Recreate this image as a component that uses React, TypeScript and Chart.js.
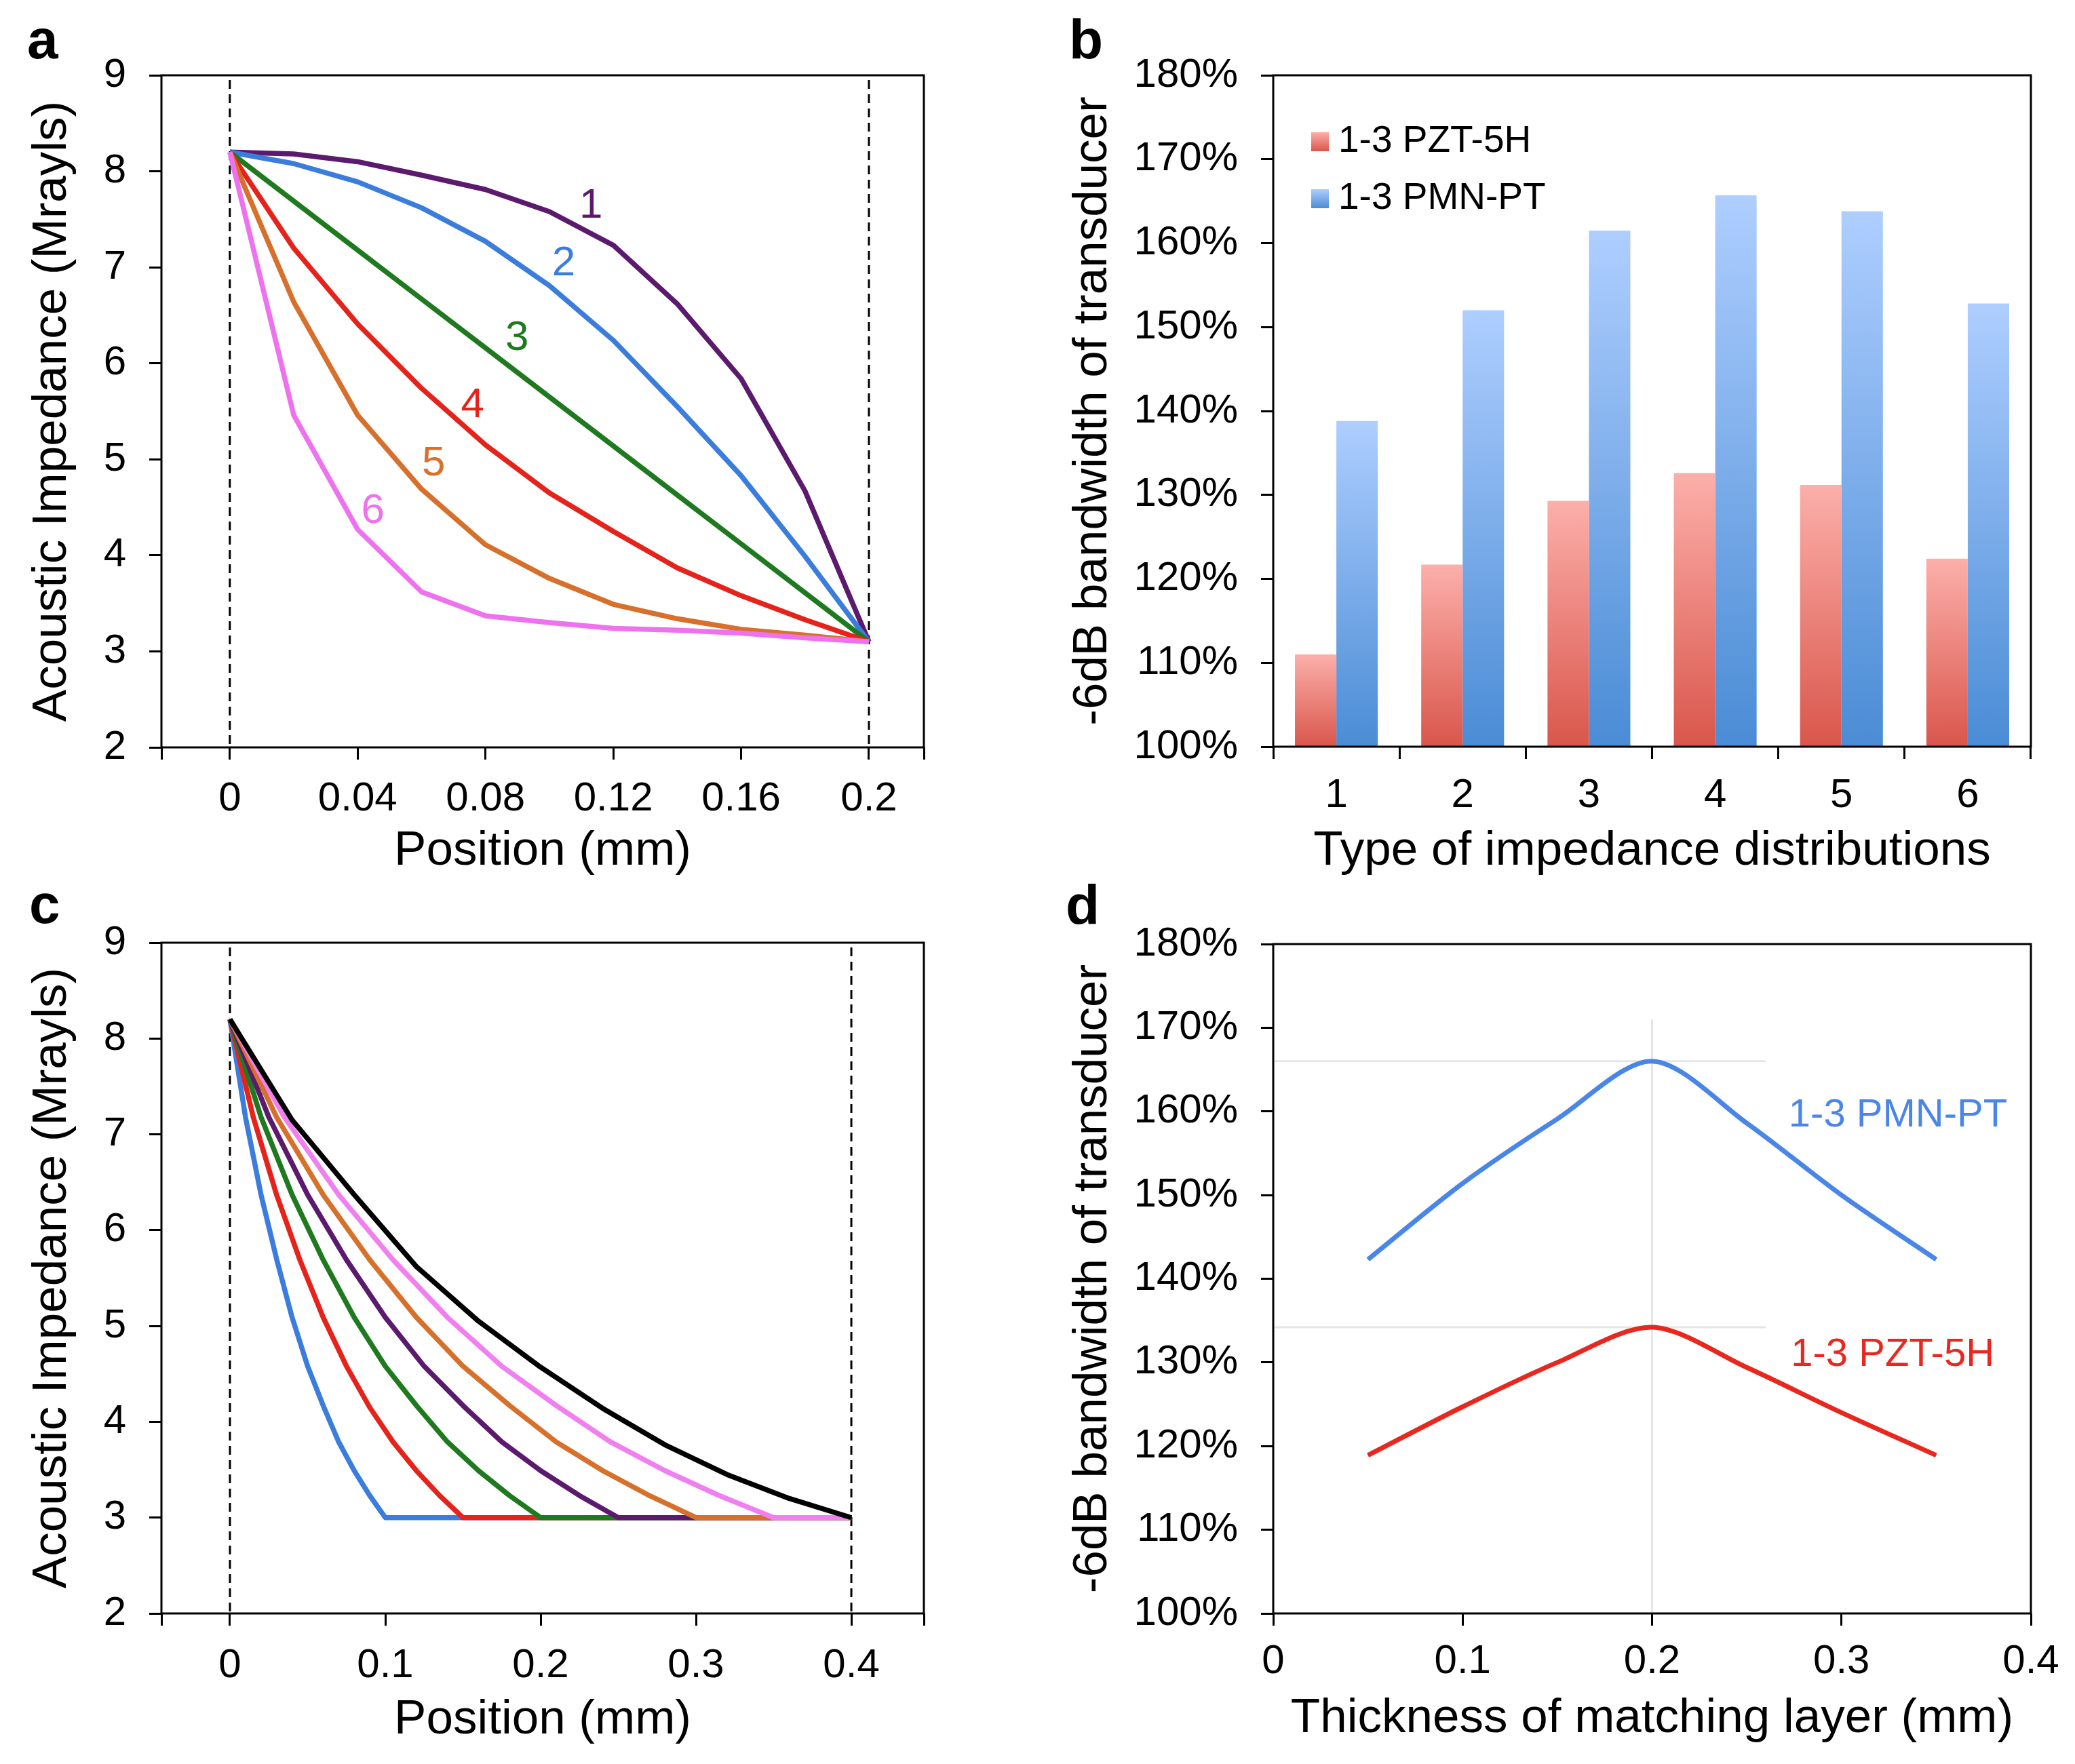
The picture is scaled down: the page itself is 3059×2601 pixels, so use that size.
import React, { useEffect, useRef } from 'react';
import { Chart, registerables } from 'chart.js';

Chart.register(...registerables);

const FONT = "'Liberation Sans', Arial, Helvetica, sans-serif";

// ---------- Panel a ----------
const aX = [0, 0.02, 0.04, 0.06, 0.08, 0.1, 0.12, 0.14, 0.16, 0.18, 0.2];
const aCurve1 = [8.2, 8.18, 8.1, 7.96, 7.81, 7.58, 7.23, 6.62, 5.84, 4.67, 3.1];
const aCurve2 = [8.2, 8.08, 7.89, 7.62, 7.27, 6.81, 6.24, 5.55, 4.83, 3.99, 3.1];
const aCurve3 = [8.2, 7.69, 7.18, 6.67, 6.16, 5.65, 5.14, 4.63, 4.12, 3.61, 3.1];
const aCurve4 = [8.2, 7.2, 6.41, 5.74, 5.15, 4.65, 4.25, 3.87, 3.58, 3.33, 3.1];
const aCurve5 = [8.2, 6.64, 5.46, 4.69, 4.11, 3.76, 3.49, 3.34, 3.23, 3.17, 3.1];
const aCurve6 = [8.2, 5.46, 4.27, 3.62, 3.37, 3.3, 3.24, 3.22, 3.19, 3.14, 3.1];
const aLabels = ['1', '2', '3', '4', '5', '6'];
const aLabelX = [0.113, 0.1045, 0.0899, 0.076, 0.0638, 0.0448];
const aLabelY = [7.64, 7.04, 6.26, 5.56, 4.95, 4.46];
const aXTicks = [0, 0.04, 0.08, 0.12, 0.16, 0.2];
const aXMin = -0.0214;
const aXMax = 0.2172;
const yImpTicks = [2, 3, 4, 5, 6, 7, 8, 9];

// ---------- Panel b ----------
const bCategories = ['1', '2', '3', '4', '5', '6'];
const bSeriesNames = ['1-3 PZT-5H', '1-3 PMN-PT'];
const bPZT = [111.0, 121.7, 129.3, 132.6, 131.2, 122.4];
const bPMN = [138.8, 152.0, 161.5, 165.7, 163.8, 152.8];
const pctTicks = [100, 110, 120, 130, 140, 150, 160, 170, 180];

// ---------- Panel c ----------
const cBlueX = [0, 0.01, 0.02, 0.03, 0.04, 0.05, 0.06, 0.07, 0.08, 0.09, 0.1, 0.4];
const cBlueY = [8.2, 7.18, 6.37, 5.7, 5.09, 4.58, 4.17, 3.79, 3.49, 3.23, 3.0, 3.0];
const cRedX = [0, 0.015, 0.03, 0.045, 0.06, 0.075, 0.09, 0.105, 0.12, 0.135, 0.15, 0.4];
const cRedY = [8.2, 7.18, 6.37, 5.69, 5.09, 4.58, 4.15, 3.79, 3.49, 3.23, 3.0, 3.0];
const cGreenX = [0, 0.02, 0.04, 0.06, 0.08, 0.1, 0.12, 0.14, 0.16, 0.18, 0.2, 0.4];
const cGreenY = [8.2, 7.18, 6.37, 5.69, 5.09, 4.58, 4.17, 3.79, 3.49, 3.23, 3.0, 3.0];
const cPurpleX = [0, 0.025, 0.05, 0.075, 0.1, 0.125, 0.15, 0.175, 0.2, 0.225, 0.25, 0.4];
const cPurpleY = [8.2, 7.18, 6.37, 5.69, 5.09, 4.58, 4.17, 3.79, 3.49, 3.23, 3.0, 3.0];
const cOrangeX = [0, 0.03, 0.06, 0.09, 0.12, 0.15, 0.18, 0.21, 0.24, 0.27, 0.3, 0.4];
const cOrangeY = [8.2, 7.18, 6.37, 5.69, 5.09, 4.58, 4.17, 3.79, 3.49, 3.23, 3.0, 3.0];
const cPinkX = [0, 0.035, 0.07, 0.105, 0.14, 0.175, 0.21, 0.245, 0.28, 0.315, 0.35, 0.4];
const cPinkY = [8.2, 7.18, 6.37, 5.69, 5.09, 4.58, 4.17, 3.79, 3.49, 3.23, 3.0, 3.0];
const cBlackX = [0, 0.04, 0.08, 0.12, 0.16, 0.2, 0.24, 0.28, 0.32, 0.36, 0.4];
const cBlackY = [8.2, 7.15, 6.37, 5.62, 5.05, 4.57, 4.14, 3.76, 3.45, 3.2, 3.0];
const cXTicks = [0, 0.1, 0.2, 0.3, 0.4];
const cXMin = -0.0441;
const cXMax = 0.4467;

// ---------- Panel d ----------
const dX = [0.05, 0.1, 0.15, 0.2, 0.25, 0.3, 0.35];
const dPMN = [142.3, 151.4, 159.1, 166.0, 158.6, 150.0, 142.3];
const dPZT = [118.9, 124.7, 130.0, 134.2, 129.4, 124.0, 118.9];
const dXTicks = [0, 0.1, 0.2, 0.3, 0.4];
const dGuideVX = [0.2, 0.2];
const dGuideVY = [171.0, 100];
const dGuideHX = [0, 0.26];
const dGuideH1Y = [166.0, 166.0];
const dGuideH2Y = [134.2, 134.2];

// ---------- colours ----------
const PURPLE = '#5B1A6E';
const BLUE = '#3B7DDD';
const GREEN = '#1F7A1F';
const RED = '#E5231B';
const ORANGE = '#D6702A';
const PINK = '#EE72EE';
const PINK_C = '#F080F0';

const pts = (xs: number[], ys: number[]) => xs.map((x, i) => ({ x, y: ys[i] }));

const framePlugin = {
  id: 'frame',
  afterDraw(chart: any) {
    const { ctx, chartArea: a } = chart;
    ctx.save();
    ctx.strokeStyle = '#000';
    ctx.lineWidth = 3;
    ctx.strokeRect(a.left, a.top, a.right - a.left, a.bottom - a.top);
    ctx.restore();
  },
};

const letterPlugin = (text: string, x: number, y: number) => ({
  id: 'letter',
  afterDraw(chart: any) {
    const ctx = chart.ctx;
    ctx.save();
    ctx.font = `bold 82px ${FONT}`;
    ctx.fillStyle = '#000';
    ctx.textAlign = 'left';
    ctx.textBaseline = 'alphabetic';
    ctx.fillText(text, x, y);
    ctx.restore();
  },
});

type Annot = { text: string; x: number; y: number; color: string; size: number };
const annotPlugin = (items: Annot[]) => ({
  id: 'annot',
  afterDatasetsDraw(chart: any) {
    const { ctx, scales } = chart;
    ctx.save();
    items.forEach((it) => {
      ctx.font = `${it.size}px ${FONT}`;
      ctx.fillStyle = it.color;
      ctx.textAlign = 'center';
      ctx.textBaseline = 'middle';
      ctx.fillText(it.text, scales.x.getPixelForValue(it.x), scales.y.getPixelForValue(it.y));
    });
    ctx.restore();
  },
});

const tickFont = { family: FONT, size: 60 };
const titleFont = { family: FONT, size: 71 };
const gridOpts = { drawOnChartArea: false, drawTicks: true, tickLength: 18, color: '#000', lineWidth: 3 };

function impedanceConfig(
  curves: { x: number[]; y: number[]; color: string; order: number }[],
  xMin: number,
  xMax: number,
  xTicks: number[],
  dashX: number[],
  topPad: number,
  xHeight: number,
  xTitlePadBottom: number,
  xTickPad: number,
  extraPlugins: any[]
) {
  return {
    type: 'scatter' as const,
    data: {
      datasets: [
        ...curves.map((c) => ({
          data: pts(c.x, c.y),
          borderColor: c.color,
          backgroundColor: c.color,
          borderWidth: 7.5,
          borderJoinStyle: 'round',
          showLine: true,
          pointRadius: 0,
          tension: 0,
          order: c.order,
        })),
        ...dashX.map((dx) => ({
          data: [
            { x: dx, y: 8.95 },
            { x: dx, y: 2 },
          ],
          borderColor: '#000',
          borderWidth: 3,
          borderDash: [13, 8],
          showLine: true,
          pointRadius: 0,
          order: 20,
        })),
      ],
    },
    options: {
      animation: false,
      responsive: false,
      devicePixelRatio: 1,
      layout: { padding: { top: topPad, right: 138, left: 0, bottom: 0 } },
      plugins: { legend: { display: false }, tooltip: { enabled: false } },
      scales: {
        x: {
          type: 'linear',
          min: xMin,
          max: xMax,
          afterBuildTicks: (s: any) => {
            s.ticks = [xMin, ...xTicks, xMax].map((v) => ({ value: v }));
          },
          afterFit: (s: any) => {
            s.height = xHeight;
          },
          ticks: {
            callback: (v: any) => (xTicks.includes(v) ? String(v) : ''),
            font: tickFont,
            color: '#000',
            padding: xTickPad,
            maxRotation: 0,
            minRotation: 0,
            autoSkip: false,
          },
          grid: gridOpts,
          border: { display: false },
          title: {
            display: true,
            text: 'Position (mm)',
            font: titleFont,
            color: '#000',
            padding: { top: 0, bottom: xTitlePadBottom },
          },
        },
        y: {
          type: 'linear',
          min: 2,
          max: 9,
          afterBuildTicks: (s: any) => {
            s.ticks = yImpTicks.map((v) => ({ value: v }));
          },
          afterFit: (s: any) => {
            s.width = 238;
          },
          ticks: { font: tickFont, color: '#000', padding: 34, autoSkip: false },
          grid: gridOpts,
          border: { display: false },
          title: {
            display: true,
            text: 'Acoustic Impedance (Mrayls)',
            font: titleFont,
            color: '#000',
            padding: { top: 35, bottom: 0 },
          },
        },
      },
    },
    plugins: [framePlugin, ...extraPlugins],
  };
}

function makeA() {
  const curves = [
    { x: aX, y: aCurve1, color: PURPLE, order: 5 },
    { x: aX, y: aCurve2, color: BLUE, order: 4 },
    { x: aX, y: aCurve3, color: GREEN, order: 3 },
    { x: aX, y: aCurve4, color: RED, order: 2 },
    { x: aX, y: aCurve5, color: ORANGE, order: 1 },
    { x: aX, y: aCurve6, color: PINK, order: 0 },
  ];
  const colors = [PURPLE, BLUE, GREEN, RED, ORANGE, PINK];
  const annots = aLabels.map((t, i) => ({ text: t, x: aLabelX[i], y: aLabelY[i], color: colors[i], size: 62 }));
  return impedanceConfig(curves, aXMin, aXMax, aXTicks, [0, 0.2], 111, 198, 2, 22, [
    annotPlugin(annots),
    letterPlugin('a', 40, 86),
  ]);
}

function makeC() {
  const curves = [
    { x: cBlueX, y: cBlueY, color: BLUE, order: 6 },
    { x: cRedX, y: cRedY, color: RED, order: 5 },
    { x: cGreenX, y: cGreenY, color: GREEN, order: 4 },
    { x: cPurpleX, y: cPurpleY, color: PURPLE, order: 3 },
    { x: cOrangeX, y: cOrangeY, color: ORANGE, order: 2 },
    { x: cPinkX, y: cPinkY, color: PINK_C, order: 1 },
    { x: cBlackX, y: cBlackY, color: '#000', order: 0 },
  ];
  return impedanceConfig(curves, cXMin, cXMax, cXTicks, [0, 0.4], 90, 221, 21, 23, [letterPlugin('c', 43, 61)]);
}

const pctAxis = () => ({
  type: 'linear',
  min: 100,
  max: 180,
  afterBuildTicks: (s: any) => {
    s.ticks = pctTicks.map((v) => ({ value: v }));
  },
  afterFit: (s: any) => {
    s.width = 337;
  },
  ticks: { font: tickFont, color: '#000', padding: 34, autoSkip: false, callback: (v: any) => `${v}%` },
  grid: gridOpts,
  border: { display: false },
  title: {
    display: true,
    text: '-6dB bandwidth of transducer',
    font: titleFont,
    color: '#000',
    padding: { top: 29, bottom: 0 },
  },
});

function barGradient(top: string, bottom: string) {
  return (c: any) => {
    const chart = c.chart;
    const { ctx, chartArea, scales } = chart;
    if (!chartArea || !scales.y || typeof c.raw !== 'number') return bottom;
    const y0 = scales.y.getPixelForValue(c.raw);
    const y1 = scales.y.getPixelForValue(100);
    const g = ctx.createLinearGradient(0, y0, 0, y1);
    g.addColorStop(0, top);
    g.addColorStop(1, bottom);
    return g;
  };
}

const RED_TOP = '#FCAFAA';
const RED_BOT = '#D9564B';
const BLUE_TOP = '#AECEFF';
const BLUE_BOT = '#4A8CD5';

const bLegendPlugin = {
  id: 'blegend',
  afterDraw(chart: any) {
    const { ctx, chartArea } = chart;
    const cols = [
      [RED_TOP, RED_BOT],
      [BLUE_TOP, BLUE_BOT],
    ];
    ctx.save();
    bSeriesNames.forEach((name, i) => {
      const cy = chartArea.top + 98 + i * 84;
      const bx = chartArea.left + 56;
      const by = cy - 14;
      const g = ctx.createLinearGradient(0, by, 0, by + 28);
      g.addColorStop(0, cols[i][0]);
      g.addColorStop(1, cols[i][1]);
      ctx.fillStyle = g;
      ctx.fillRect(bx, by, 26, 28);
      ctx.font = `55px ${FONT}`;
      ctx.fillStyle = '#000';
      ctx.textAlign = 'left';
      ctx.textBaseline = 'middle';
      ctx.fillText(name, chartArea.left + 96, cy);
    });
    ctx.restore();
  },
};

function makeB() {
  return {
    type: 'bar' as const,
    data: {
      labels: bCategories,
      datasets: [
        {
          label: bSeriesNames[0],
          data: bPZT,
          backgroundColor: barGradient(RED_TOP, RED_BOT),
          borderWidth: 0,
          categoryPercentage: 0.656,
          barPercentage: 1.0,
        },
        {
          label: bSeriesNames[1],
          data: bPMN,
          backgroundColor: barGradient(BLUE_TOP, BLUE_BOT),
          borderWidth: 0,
          categoryPercentage: 0.656,
          barPercentage: 1.0,
        },
      ],
    },
    options: {
      animation: false,
      responsive: false,
      devicePixelRatio: 1,
      layout: { padding: { top: 111, right: 65, left: 0, bottom: 0 } },
      plugins: { legend: { display: false }, tooltip: { enabled: false } },
      scales: {
        x: {
          type: 'category',
          offset: true,
          afterFit: (s: any) => {
            s.height = 199;
          },
          ticks: { font: tickFont, color: '#000', padding: 18, maxRotation: 0, minRotation: 0 },
          grid: { ...gridOpts, offset: true },
          border: { display: false },
          title: {
            display: true,
            text: 'Type of impedance distributions',
            font: titleFont,
            color: '#000',
            padding: { top: 0, bottom: 2 },
          },
        },
        y: pctAxis(),
      },
    },
    plugins: [framePlugin, bLegendPlugin, letterPlugin('b', 36, 86)],
  };
}

function makeD() {
  const guide = (xs: number[], ys: number[]) => ({
    data: pts(xs, ys),
    borderColor: '#E6E6E6',
    borderWidth: 3,
    showLine: true,
    pointRadius: 0,
    order: 10,
  });
  return {
    type: 'scatter' as const,
    data: {
      datasets: [
        {
          data: pts(dX, dPMN),
          borderColor: '#4A86E8',
          borderWidth: 7,
          showLine: true,
          pointRadius: 0,
          tension: 0.3,
          order: 0,
        },
        {
          data: pts(dX, dPZT),
          borderColor: '#E8281E',
          borderWidth: 7,
          showLine: true,
          pointRadius: 0,
          tension: 0.3,
          order: 1,
        },
        guide(dGuideVX, dGuideVY),
        guide(dGuideHX, dGuideH1Y),
        guide(dGuideHX, dGuideH2Y),
      ],
    },
    options: {
      animation: false,
      responsive: false,
      devicePixelRatio: 1,
      layout: { padding: { top: 92, right: 65, left: 0, bottom: 0 } },
      plugins: { legend: { display: false }, tooltip: { enabled: false } },
      scales: {
        x: {
          type: 'linear',
          min: 0,
          max: 0.4,
          afterBuildTicks: (s: any) => {
            s.ticks = dXTicks.map((v) => ({ value: v }));
          },
          afterFit: (s: any) => {
            s.height = 221;
          },
          ticks: { font: tickFont, color: '#000', padding: 17, maxRotation: 0, minRotation: 0, autoSkip: false, callback: (v: any) => String(v) },
          grid: gridOpts,
          border: { display: false },
          title: {
            display: true,
            text: 'Thickness of matching layer (mm)',
            font: titleFont,
            color: '#000',
            padding: { top: 0, bottom: 23 },
          },
        },
        y: pctAxis(),
      },
    },
    plugins: [
      framePlugin,
      annotPlugin([
        { text: bSeriesNames[1], x: 0.3298, y: 159.5, color: '#4A86E8', size: 58 },
        { text: bSeriesNames[0], x: 0.327, y: 130.9, color: '#E8281E', size: 58 },
      ]),
      letterPlugin('d', 31, 62),
    ],
  };
}

function ChartPanel(props: { left: number; top: number; width: number; height: number; make: () => any }) {
  const ref = useRef<HTMLCanvasElement>(null);
  useEffect(() => {
    const chart = new Chart(ref.current as HTMLCanvasElement, props.make());
    return () => chart.destroy();
  }, []);
  return (
    <canvas
      ref={ref}
      width={props.width}
      height={props.height}
      style={{ position: 'absolute', left: props.left, top: props.top, width: props.width, height: props.height }}
    />
  );
}

export default function App() {
  return (
    <div style={{ position: 'absolute', left: 0, top: 0, width: 3059, height: 2601, background: '#fff' }}>
      <ChartPanel left={0} top={0} width={1500} height={1300} make={makeA} />
      <ChartPanel left={1540} top={0} width={1519} height={1300} make={makeB} />
      <ChartPanel left={0} top={1300} width={1500} height={1300} make={makeC} />
      <ChartPanel left={1540} top={1300} width={1519} height={1300} make={makeD} />
    </div>
  );
}
